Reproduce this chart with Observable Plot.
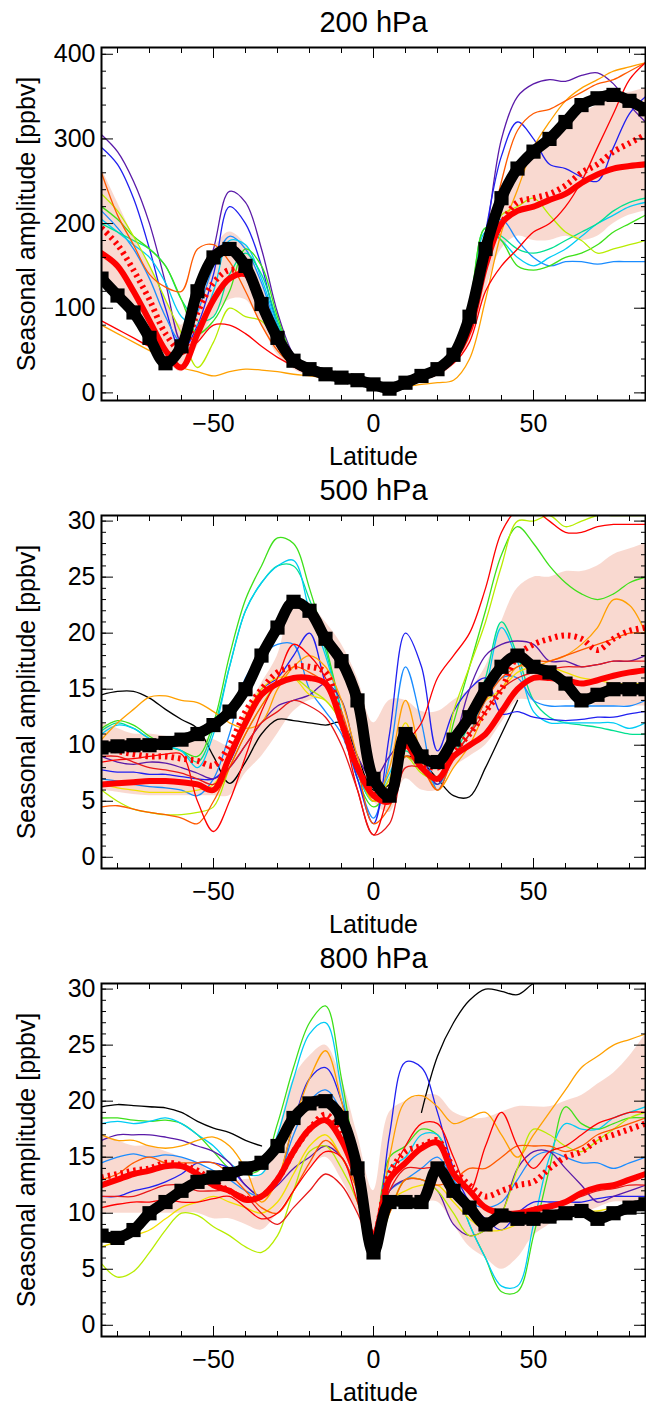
<!DOCTYPE html>
<html>
<head>
<meta charset="utf-8">
<script src="https://cdn.jsdelivr.net/npm/d3@7"></script>
<script src="https://cdn.jsdelivr.net/npm/@observablehq/plot@0.6"></script>
<style>
  body { margin: 0; background: white; font-family: "Liberation Sans", Arial, sans-serif; }
  .title { height: 45px; line-height: 44px; text-align: center; font-size: 29px; padding-left: 101px; box-sizing: border-box; }
  svg { display: block; }
</style>
</head>
<body>
<div id="charts"></div>
<script>
// latitude grid, 5 degree steps
const lat = d3.range(-85, 86, 5);

const colors = {
  purple: "#5a1aa8", blue: "#2020f0", lblue: "#1a8cff", cyan: "#00ccf5", aqua: "#00e090",
  green: "#3ee01a", ygreen: "#b8ec00", yellow: "#f2e000", orange: "#ffa000", ored: "#ff5a00",
  red: "#ff0000", red2: "#e81818", black: "#000000"
};

// ---------- 200 hPa ----------
const obs200 = [135,115,95,65,35,55,120,160,170,150,105,65,38,28,22,18,15,10,5,12,20,28,45,90,170,230,265,285,300,320,340,348,352,345,335];
const mean200 = [165,150,120,85,50,30,70,110,135,140,105,60,35,25,20,17,14,10,8,12,18,25,40,75,150,200,215,220,228,235,248,258,265,268,270];
const median200 = [195,175,145,110,70,50,95,130,145,140,105,60,35,25,20,17,14,10,8,12,18,25,42,80,160,200,225,230,235,245,260,270,285,295,305];
const lo200 = [140,115,95,70,40,25,55,90,110,110,80,45,28,20,16,13,11,7,5,9,14,20,32,60,120,170,185,180,180,185,180,185,200,210,215];
const hi200 = [265,225,185,150,110,80,130,170,190,175,130,80,42,30,24,21,18,13,11,15,22,30,48,95,180,240,270,290,305,320,330,340,350,355,360];
const models200 = [
  ["purple", [305,285,250,200,130,60,110,170,238,225,170,95,45,25,20,17,14,10,8,12,18,25,40,80,180,300,350,365,370,368,375,378,365,340,320]],
  ["blue",   [290,270,230,170,100,50,80,140,220,200,150,80,40,25,20,17,14,10,8,12,18,25,40,85,190,280,320,300,270,265,255,250,290,330,350]],
  ["lblue",  [215,195,170,135,90,60,95,150,185,170,130,75,38,24,19,16,14,10,8,12,18,25,40,90,185,205,180,160,150,155,155,152,155,155,155]],
  ["cyan",   [205,190,175,160,130,90,80,120,180,175,135,80,40,25,20,17,14,10,8,12,18,25,42,95,190,180,160,150,160,170,185,200,210,220,225]],
  ["aqua",   [200,190,180,170,150,110,85,90,140,165,140,85,40,25,20,17,14,10,8,12,18,25,45,100,195,185,170,165,170,180,190,200,215,225,230]],
  ["green",  [220,205,185,170,150,110,70,85,120,170,150,90,42,25,20,17,14,10,8,12,18,25,45,105,195,180,150,145,150,160,165,175,190,200,210]],
  ["ygreen", [235,215,185,150,110,70,30,60,100,90,85,60,35,24,19,16,14,10,8,12,18,25,40,85,170,210,220,230,210,190,180,165,170,175,180]],
  ["orange", [80,70,60,50,40,30,25,20,25,28,27,25,22,20,18,16,14,10,8,8,10,12,15,40,110,190,240,290,320,345,360,370,380,385,390]],
  ["ored",   [260,210,175,140,125,120,170,175,155,120,80,50,32,24,19,16,14,10,8,12,18,25,40,80,160,250,310,330,335,345,355,365,370,380,390]],
  ["red",    [85,75,65,55,50,45,60,80,80,70,55,42,32,24,19,16,14,10,8,12,18,25,35,60,120,150,170,190,200,220,250,290,330,370,390]]
];

// ---------- 500 hPa ----------
const obs500 = [9.8,9.9,10,10,10.2,10.5,11,11.8,13,15,18,20.5,22.8,22,19.5,17.5,14,7,5.5,11,9,8.5,10.5,12.5,15,17,18,17,16.5,15.5,14,14.5,15,15,15];
const mean500 = [6.5,6.6,6.7,6.8,6.8,6.7,6.5,6,9,12,14.5,15.5,16,16,15.5,12,8,5.5,5,10,8,7,9,10,11,13,15,16,16,15.8,15.5,15.8,16.2,16.5,16.7];
const median500 = [10,9.5,9.2,9,9,8.8,8.6,8.2,10,13,15,16.5,17,17,16.5,12,8,6,5.5,10,8.5,8,9.5,11,13,15,18,19,19.5,19.8,19.5,18.5,19.5,20.2,20.5];
const lo500 = [6,5.8,5.6,5.5,5.5,5.5,5.5,5.5,5.5,7.5,9,11,13,14,14,12,9,5,4,7,6,6,8,9,10,12,14,14,14,14,14,13.5,13.5,13.5,13.5];
const hi500 = [12,11.5,11,11,10.8,10.6,10.5,10.5,10,13,15.5,18,22.5,22.5,21,19,16,12,14,14,13,13,14,15,17,21,24,25,25,25.5,25.5,26,27,27.5,28];
const models500 = [
  ["black",  [14.5,14.8,14.8,14.2,13.2,12.3,11.5,9,6.6,8.5,11,12.3,12.2,12,11.8,12,9,6,6.5,9,8.5,7,5.5,5.4,8,11,14,null,null,null,null,null,null,null,null]],
  ["green",  [11.5,12.2,11.8,10.8,10,9.5,9,12,18,23,26,28.5,28,24,19,13,7,4.5,6,9,8,7,12,17,22,27,29.5,28,26,24.5,23.5,23,23.5,24.5,25]],
  ["aqua",   [11.3,12,11.5,10.6,10,9.5,8.5,11.5,17,22,24.5,26,26,23,18.5,13,7.5,5,7,9.5,8,7,9,12,16,21,18,14,12.5,12,11.8,11.6,11.3,11,11]],
  ["cyan",   [11,11.8,11.5,10.6,10,9.5,8,11,17,22,24.5,26,26.5,22,18,13,7.5,5,7.5,10,8,6.5,9,11,15,20.5,17.5,13,12,12,12,12,12,11.5,12]],
  ["lblue",  [7,6.8,6.5,6.3,6.2,6,5.5,7,11,16,18,19,19,15,13,11,7,3.5,9,17,12,6,9,11,14,16,16,14,13.5,13.5,13.5,13.5,13.5,13.5,14]],
  ["blue",   [7.8,7.6,7.6,7.4,7.4,7.2,7,7,8.5,12,15,16,18,20,15.5,12,7,3,11,20,17,9.5,13,15,16,12.8,13,12.5,12.3,12.2,12.3,12.5,12.5,12.8,13]],
  ["purple", [9,8.5,8.3,8.5,8.4,8,7.5,7,8,10,12,13.5,14,14.5,15.5,14,9,7,9,10.5,9,6.5,10,15,18,19,19.3,19,17.5,17.5,17,17.2,17.5,17.5,18]],
  ["yellow", [6.5,6.2,6,5.8,5.8,5.8,6,6.5,9,12.5,15,16,16,14.5,14,12,8,5,7,12,8,7,10,13,14,15,16.5,17,17,16.5,16,15.8,15.5,15.5,15.5]],
  ["ygreen", [6,5,4.3,4,3.8,3.8,4,4.5,8,11,13.5,15.5,16,15,14,12,8,5,6,9,7.5,7,13,17,21,26,30,30,30.5,29.5,30,30.5,30.5,30.5,30.5]],
  ["orange", [10.5,12,13.2,14.3,14.4,14,13.8,13,12,11.5,12,15,17,18,17,14,9,5,8,14,9,6,8,10,13,15,17,17,17.5,18,19,20.5,23,22.5,20]],
  ["ored",   [4.5,4.6,4.3,4,3.8,3.5,3,5,8,11,13.5,15.5,17,16.5,15.5,13,8,3,4.5,9,8,6,9,11,14,16,17,17.5,17.5,18,18.5,19,19.5,20,20]],
  ["red",    [8.5,8.7,8.8,9,9.2,9.2,5,2.3,5,9,13,16,19,18,16,12,6,2,6,10,12,16,18,20,24,29,31,31,30,29,29,29.5,29.7,29.7,29.7]],
  ["red2",   [9,9,8.5,8,7.8,7.5,7,6.5,8,10,12,13,14,13.5,12.5,10,6,2,3,8,8,7,9,11,13,15,16,16.5,16.8,17,17,17.2,17.5,17.5,17.5]]
];

// ---------- 800 hPa ----------
const obs800 = [8,7.8,8.5,10,11,12,12.8,13.2,13.5,14,14.5,16,18.5,19.8,20,18.5,14,6.5,11,11,11,14,12,10.5,9,9.8,9.5,9.5,9.7,10,10.2,9.5,10,10.5,10.8];
const mean800 = [12.5,13,13.5,13.8,14.2,14.2,13.5,12.5,12,11.2,11.5,13,15.5,17.5,18.3,16.5,13,8,13,14.5,15.8,16.3,13.5,12,10.5,10,10,10.3,10.6,11,11.8,12.3,12.5,13,13.5];
const median800 = [13.2,13.5,13.8,14,14.5,14.3,13.8,12.8,12,11.3,11.5,13,15.5,17.5,18.8,17,13.5,8,13.5,15.5,16,16.5,14,12.5,11.5,12,12.5,12.8,14,15,15.5,16.5,17,17.5,18];
const lo800 = [10,10,10,10,10,10,10,9.5,9.5,9,8.5,10,12,14,15,13,10,6,10,11,11,11,9,7,6,5,6,8,9,10,10,10.5,11,11,11];
const hi800 = [17,16.5,16,16,15.5,15,14.5,13.5,13,13,13.5,17,22,24,25,22,17,12,19,20,20.5,20.5,19,18.5,18.5,19,19.5,19.5,19.5,20,20.5,21.5,22.5,24,26];
const models800 = [
  ["black",  [19.5,19.7,19.6,19.5,19.4,19,18.2,17.6,17.2,16.5,16,null,null,null,null,null,null,null,null,null,19,24,27,29,30,29.8,29.5,30.5,31,31,31,31,31,31,31]],
  ["green",  [18.5,18.5,18.3,18.2,18.3,18,17,15.5,14,13.5,14,18,23,27,28.5,22,14,8,15,16,17.5,17,13,9,6,3,3,8,14,19.5,18,17.5,18,18.5,18.5]],
  ["cyan",   [18,18.2,18,18.2,18.5,18,17,16,14.5,13.5,13.5,17,22,26,27,21,13,7.5,14,15,17,17,13,9,6,3.5,3.5,9,15,18,17.5,17.5,18.5,19,19.5]],
  ["lblue",  [14.5,15,15.3,15,15.2,15,14.5,13.8,13,12,11.5,13,17,20,21,19,14,8,12,13,14,15,13,11,10.5,11,13,15,15.5,15,14.5,14.5,14,14.5,15]],
  ["blue",   [11.5,11.5,12,12.3,12.8,13.5,14.5,14.5,14,12.5,11.5,13,18,22,23,20,14,7,17,23.5,23,19,14,11,9.5,8.5,10,11,11,11,11,11.3,11.5,11.5,11.5]],
  ["purple", [16.5,17,17,17,16.8,16.5,16,15.5,14.5,12.5,11.5,12.5,14,15,16,15,12,7,12,13,13,12,9,8,8.5,10,14,15.5,15.5,14,12.5,11,11.5,12,12.5]],
  ["ygreen", [5.5,4.3,4.8,6.5,8.5,10,9.8,8.8,8,7,6.5,8,12,15.5,16,14,11,6,10,13,13,12,10,8,8.5,10,14,17.5,17,16,15.5,16.5,17.5,18.5,19]],
  ["yellow", [7,7.5,8,8.5,9.5,10.5,11,11.5,11,10.5,10,11,13.5,16,17,15,12,6,11,12,12.5,12.5,11,9.5,8.5,8.5,9,9.5,9.7,10,10.2,10.2,10.5,10.5,10.5]],
  ["orange", [17,16.5,16.5,16,15.8,16,16.5,16.8,16,14,11,13,18,22,24.5,20,13,7,15,20,20.5,19.5,18,18.5,19,17,15,17,19,21,23,24,25,25.5,26]],
  ["ored",   [13,13.5,14.5,15,14.5,14.5,14.5,14.5,13.5,12,10.5,10,12,14.5,16.5,15,12,7,10,13,13,12.5,13,14,14,15,16,16,16,15.5,16,17,17.5,18,18.5]],
  ["red",    [10.5,10.8,11,11,11.2,11,11,11.3,11.5,10.5,9.5,10,12,14,15.5,15,11,7,13,16,18,18,15,12,16,19,16,14,15.5,16,17,18,18.5,19,19]],
  ["red2",   [11.5,11.5,11.5,12,12.5,12.5,12,12,12,11.5,10,9,10.5,12,13.5,12.5,10,7,12,14,14,14,12,10,9,9.5,10,10.5,10.8,11,11.5,12,12.2,12.5,12.5]]
];

const panels = [
  {title: "200 hPa", obs: obs200, mean: mean200, median: median200, lo: lo200, hi: hi200, models: models200,
   domain: [-9, 408], major: [0, 100, 200, 300, 400], minor: d3.range(0, 401, 20)},
  {title: "500 hPa", obs: obs500, mean: mean500, median: median500, lo: lo500, hi: hi500, models: models500,
   domain: [-1, 30.5], major: [0, 5, 10, 15, 20, 25, 30], minor: d3.range(0, 31, 1)},
  {title: "800 hPa", obs: obs800, mean: mean800, median: median800, lo: lo800, hi: hi800, models: models800,
   domain: [-1, 30.5], major: [0, 5, 10, 15, 20, 25, 30], minor: d3.range(0, 31, 1)}
];

const series = arr => lat.map((x, i) => ({lat: x, v: arr[i]}));
const fs = 25;

for (const p of panels) {
  const wrap = d3.select("#charts").append("div");
  wrap.append("div").attr("class", "title").text(p.title);

  const band = lat.map((x, i) => ({lat: x, lo: p.lo[i], hi: p.hi[i]}));
  const modelMarks = p.models.map(([c, vals]) =>
    Plot.line(series(vals), {x: "lat", y: "v", stroke: colors[c], strokeWidth: 1.3, curve: "catmull-rom", clip: true}));

  const chart = Plot.plot({
    width: 646,
    height: 423,
    marginLeft: 101,
    marginRight: 1,
    marginTop: 2,
    marginBottom: 68,
    style: {fontFamily: "Liberation Sans, Arial, sans-serif", color: "black", background: "white", overflow: "visible"},
    x: {domain: [-85, 85]},
    y: {domain: p.domain},
    marks: [
      Plot.areaY(band, {x: "lat", y1: "lo", y2: "hi", fill: "#f8cfc4", fillOpacity: 0.8, curve: "catmull-rom", clip: true}),
      ...modelMarks,
      Plot.line(series(p.median), {x: "lat", y: "v", stroke: "#ff0000", strokeWidth: 6, strokeDasharray: "2.5,4", strokeLinecap: "butt", curve: "catmull-rom", clip: true}),
      Plot.line(series(p.mean), {x: "lat", y: "v", stroke: "#ff0000", strokeWidth: 6, curve: "catmull-rom", clip: true}),
      Plot.line(series(p.obs), {x: "lat", y: "v", stroke: "black", strokeWidth: 11, curve: "catmull-rom", clip: true}),
      Plot.dot(series(p.obs), {x: "lat", y: "v", symbol: "square", r: 8, fill: "black", clip: true}),
      Plot.frame({stroke: "black", strokeWidth: 2}),
      // x ticks, inward, top and bottom
      Plot.axisX({anchor: "bottom", ticks: [-50, 0, 50], tickSize: -10, tickPadding: 24, fontSize: fs, label: "Latitude", labelAnchor: "center", labelArrow: "none", labelOffset: 64}),
      Plot.axisX({anchor: "bottom", ticks: d3.range(-80, 81, 10), tickSize: -5, text: null, label: null}),
      Plot.axisX({anchor: "top", ticks: [-50, 0, 50], tickSize: -10, text: null, label: null}),
      Plot.axisX({anchor: "top", ticks: d3.range(-80, 81, 10), tickSize: -5, text: null, label: null}),
      // y ticks, inward, left and right
      Plot.axisY({anchor: "left", ticks: p.major, tickSize: -12, tickPadding: 18, fontSize: fs, label: "Seasonal amplitude [ppbv]", labelAnchor: "center", labelArrow: "none", labelOffset: 84}),
      Plot.axisY({anchor: "left", ticks: p.minor, tickSize: -5, text: null, label: null}),
      Plot.axisY({anchor: "right", ticks: p.major, tickSize: -12, text: null, label: null}),
      Plot.axisY({anchor: "right", ticks: p.minor, tickSize: -5, text: null, label: null})
    ]
  });
  wrap.append(() => chart);
}
</script>
</body>
</html>
